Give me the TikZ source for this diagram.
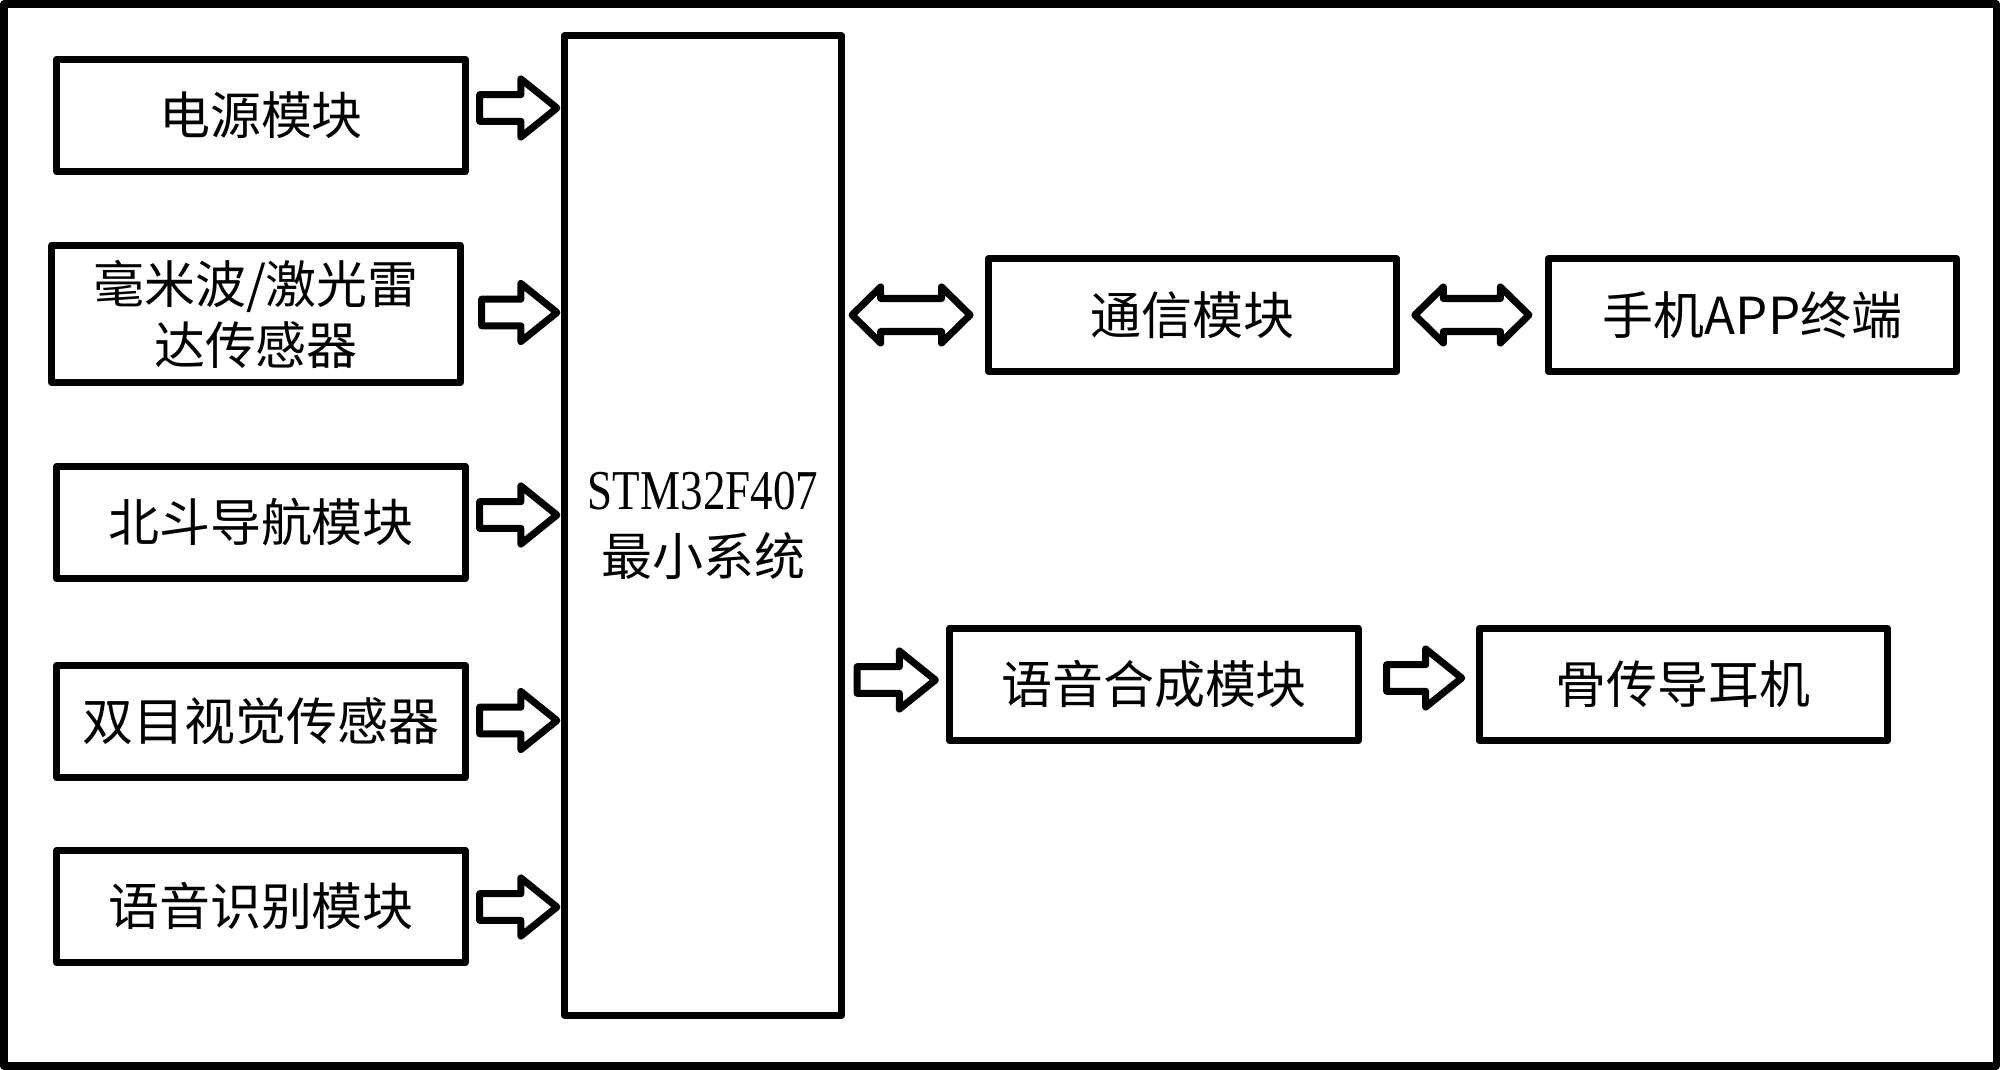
\documentclass[tikz,border=0pt]{standalone}
\usepackage{fontspec}
\usepackage{tikz}
\usetikzlibrary{positioning,calc}
\newfontfamily\cjk{Noto Sans CJK SC}
\newfontfamily\latin[FakeStretch=0.8]{Liberation Serif}

% hollow block arrow: from, to, start gap, end gap, y reference, y offset
\newcommand{\rarrow}[6]{%
  \draw[blockarrow] let \p1=($(#1.east)+(#3,0)$), \p2=($(#2.west)-(#4,0)$), \p3=($(#5)+(0,#6)$) in
    (\x1,\y3+1.33mm) -- (\x2-3.6mm,\y3+1.33mm) -- (\x2-3.6mm,\y3+2.9mm) -- (\x2,\y3)
    -- (\x2-3.6mm,\y3-2.9mm) -- (\x2-3.6mm,\y3-1.33mm) -- (\x1,\y3-1.33mm) -- cycle;}
% hollow double arrow: from, to, start gap, end gap
\newcommand{\darrow}[4]{%
  \draw[blockarrow] let \p1=($(#1.east)+(#3,0)$), \p2=($(#2.west)-(#4,0)$) in
    (\x1,\y2) -- (\x1+2.85mm,\y2+2.8mm) -- (\x1+2.85mm,\y2+1.65mm) -- (\x2-2.85mm,\y2+1.65mm)
    -- (\x2-2.85mm,\y2+2.8mm) -- (\x2,\y2) -- (\x2-2.85mm,\y2-2.8mm) -- (\x2-2.85mm,\y2-1.65mm)
    -- (\x1+2.85mm,\y2-1.65mm) -- (\x1+2.85mm,\y2-2.8mm) -- cycle;}

\begin{document}
\begin{tikzpicture}[
    x=0.01cm, y=-0.01cm,
    box/.style={rectangle, draw, line width=2pt, line join=round, minimum width=4.08cm, minimum height=1.125cm, inner sep=0pt, align=center, font=\cjk\fontsize{14.5}{17.4}\selectfont},
    blockarrow/.style={draw, line width=2pt, line join=round}
]
\useasboundingbox (0,0) rectangle (2000,1070);
\draw[line width=2pt, line join=round] (4,4) rectangle (1996,1066);

% inputs
\node[box] (pwr) at (261,115.5) {电源模块};
\node[box, minimum height=1.375cm] (radar) at (256,314) {毫米波/激光雷\\达传感器};
\node[box] (nav) at (261,522.5) {北斗导航模块};
\node[box] (bino) at (261,721.5) {双目视觉传感器};
\node[box] (asr) at (261,906.5) {语音识别模块};

% controller
\node[box, minimum width=2.77cm, minimum height=9.785cm, font=\cjk\fontsize{14.5}{18.8}\selectfont] (mcu) at (703,525.5)
    {{\latin\fontsize{16}{18.8}\selectfont STM32F407}\\最小系统};

% outputs
\node[box] (comm) at (1192.7,315) {通信模块};
\node[box, right=1.445cm of comm] (phone) {手机APP终端};
\node[box] (tts) at (1154,684.5) {语音合成模块};
\node[box, right=1.14cm of tts] (bone) {骨传导耳机};

\rarrow{pwr}{mcu}{11}{4}{pwr}{-7.5}
\rarrow{radar}{mcu}{18}{4}{radar}{-1.5}
\rarrow{nav}{mcu}{11}{4}{nav}{-7.5}
\rarrow{bino}{mcu}{11}{4}{bino}{-1}
\rarrow{asr}{mcu}{11}{4}{asr}{0.5}

\darrow{mcu}{comm}{7}{15}
\darrow{comm}{phone}{14.5}{16}

\rarrow{mcu}{tts}{12}{11}{tts}{-4.5}
\rarrow{tts}{bone}{25}{14}{bone}{-6.5}
\end{tikzpicture}
\end{document}
